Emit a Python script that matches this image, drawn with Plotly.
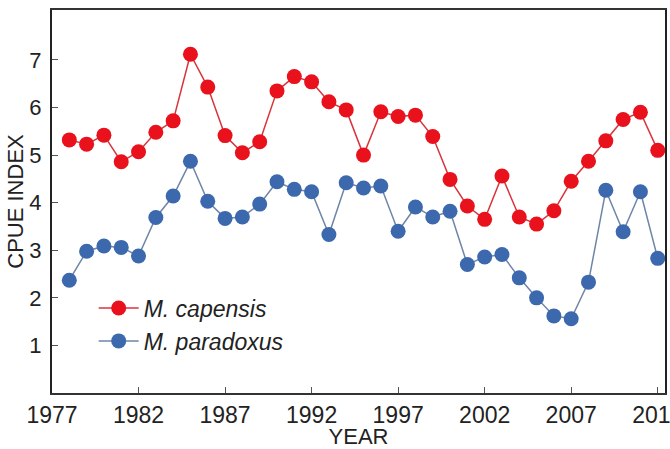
import plotly.graph_objects as go

years = list(range(1978, 2013))

capensis = [5.32, 5.23, 5.42, 4.86, 5.07, 5.48, 5.72, 7.12, 6.43, 5.41,
            5.05, 5.28, 6.35, 6.65, 6.54, 6.12, 5.95, 5.00, 5.91, 5.81,
            5.84, 5.39, 4.49, 3.93, 3.65, 4.56, 3.70, 3.55, 3.83, 4.45,
            4.87, 5.30, 5.75, 5.90, 5.10]

paradoxus = [2.37, 2.98, 3.09, 3.06, 2.88, 3.69, 4.14, 4.87, 4.03, 3.67,
             3.70, 3.97, 4.44, 4.28, 4.23, 3.33, 4.42, 4.31, 4.35, 3.40,
             3.91, 3.70, 3.82, 2.70, 2.86, 2.91, 2.42, 2.00, 1.62, 1.56,
             2.33, 4.26, 3.39, 4.23, 2.83]

x_ticks = [1977, 1982, 1987, 1992, 1997, 2002, 2007, 2012]
y_ticks = [1, 2, 3, 4, 5, 6, 7]

font = "Arial, 'Liberation Sans', sans-serif"

fig = go.Figure()
fig.add_scatter(x=years, y=capensis, mode="lines+markers",
                name="<i>M. capensis</i>",
                line=dict(color="#d8343c", width=1.5),
                marker=dict(color="#e8111c", size=15))
fig.add_scatter(x=years, y=paradoxus, mode="lines+markers",
                name="<i>M. paradoxus</i>",
                line=dict(color="#6f85a6", width=1.5),
                marker=dict(color="#3c68ad", size=15))

fig.update_layout(
    width=670, height=449,
    margin=dict(l=52, r=5, t=10, b=56, autoexpand=False),
    paper_bgcolor="white", plot_bgcolor="white",
    font=dict(family=font, size=23, color="#222"),
    showlegend=True,
    legend=dict(x=0.068, y=0.278, xanchor="left", yanchor="top",
                bgcolor="rgba(0,0,0,0)", font=dict(size=23),
                itemwidth=40),
)
fig.update_xaxes(
    range=[1977, 2012.42], tickvals=x_ticks,
    ticks="inside", ticklen=6, tickcolor="#555",
    tickfont=dict(size=23), ticklabeloverflow="allow",
    showgrid=False, zeroline=False, automargin=False,
    showline=True, linecolor="#333", linewidth=2, mirror=True,
    title=dict(text="YEAR", standoff=0, font=dict(size=22)),
)
fig.update_yaxes(
    range=[0, 8.05], tickvals=y_ticks,
    ticks="inside", ticklen=6, tickcolor="#555",
    tickfont=dict(size=22), automargin=False,
    showgrid=False, zeroline=False,
    showline=True, linecolor="#222", linewidth=2, mirror=True,
    ticklabelstandoff=4,
    title=dict(text="CPUE INDEX", standoff=0, font=dict(size=22)),
)

# page body has a default 8px margin; drop it so the figure sits at 0,0
fig.write_html("out.html", config={"displayModeBar": False},
               post_script="document.body.style.margin='0';")
